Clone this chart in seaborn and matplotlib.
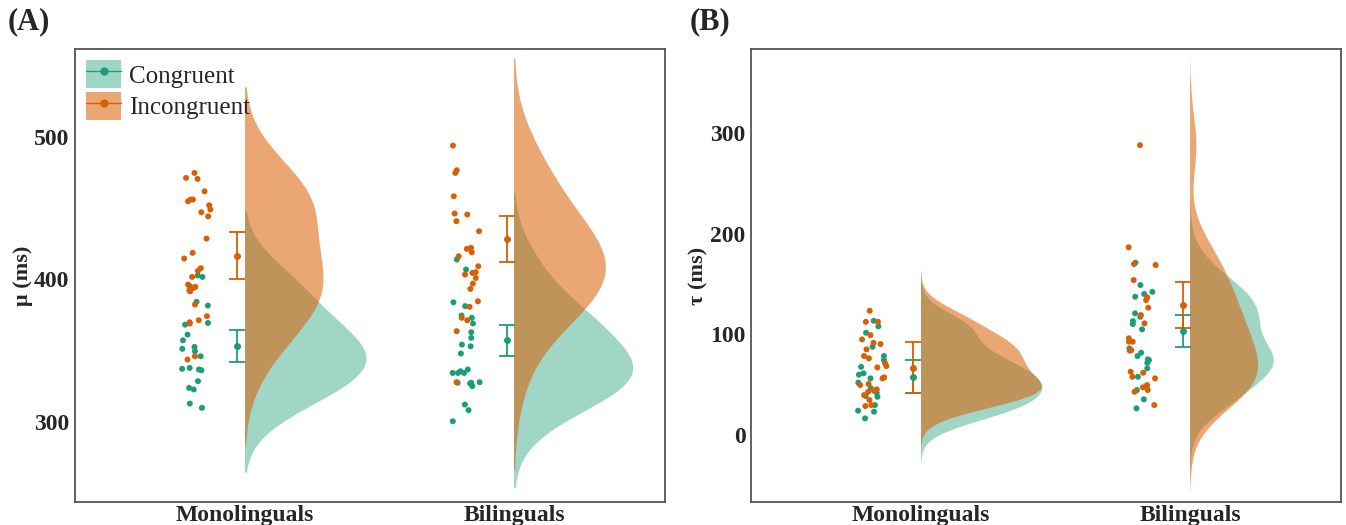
import numpy as np
import pandas as pd
import matplotlib
matplotlib.use("Agg")
import matplotlib.pyplot as plt
import matplotlib.colors as mcolors
import seaborn as sns
from matplotlib.patches import Patch, Rectangle
from matplotlib.lines import Line2D

groups = ["Monolinguals", "Bilinguals"]
conditions = ["Congruent", "Incongruent"]
colors = {"Congruent": "#1b9e77", "Incongruent": "#d95f02"}
cloud_alpha = {"Congruent": 0.42, "Incongruent": 0.55}

# (A) mu per participant (ms)
mu_mono_con = [402.5, 401.5, 395, 384, 381.4, 369.2, 368, 361, 357, 352.4, 351, 349.3,
               345.8, 337.6, 336, 336.5, 337, 328.3, 323.6, 322.5, 312.6, 309.6]
mu_mono_inc = [474.5, 471, 470.3, 461.6, 455.8, 454.6, 455.8, 451.8, 448.8, 446.9, 444,
               428.4, 418.4, 414.4, 407.6, 405.7, 401.5, 396.1, 393.8, 394.5, 392.1,
               391.4, 382.1, 373.9, 371.1, 368.8, 369.7, 345.8, 343.5]
mu_bi_con = [413.7, 406.7, 383.7, 381, 374.4, 372.8, 368.8, 362.7, 358.7, 354, 352.8,
             347.7, 336.5, 335.3, 334.1, 334.1, 334.1, 327.6, 327.2, 327.2, 326.7, 324.8,
             311.9, 308, 300.2]
mu_bi_inc = [493.7, 476.4, 474.5, 458.1, 446, 445.3, 440.6, 433.6, 421.9, 421.2, 418.8,
             416, 409, 404.8, 404.3, 403.2, 400.8, 396.8, 393.1, 384.4, 380.5, 372.8,
             371.1, 363.4, 327.6]

# (B) tau per participant (ms)
tau_mono_con = [113.5, 108, 101.6, 87.7, 78.5, 74.5, 67.8, 61.3, 60, 56.3, 52, 46.4, 42,
                38.7, 38, 29.8, 24.2, 23.2, 16.6]
tau_mono_inc = [123.5, 112.5, 112.5, 99.3, 95, 91.7, 90.4, 85.1, 78.5, 76.2, 71.2, 68.5,
                67.2, 57.3, 56.3, 50.7, 49.7, 45.4, 44, 43, 39.7, 34.8, 29.8, 28.8]
tau_bi_con = [171.2, 149, 142.3, 140.1, 137.4, 120.9, 117.5, 113.2, 110.3, 105, 86.1,
              81.8, 78.5, 75.2, 74.5, 71.8, 66.3, 57.9, 48, 44.7, 35.5, 26.5]
tau_bi_inc = [288, 186.5, 169.9, 168.9, 154, 136.8, 134.1, 126.5, 119.2, 111, 96.1, 92.7,
              92.7, 84.4, 83.8, 62.9, 61.9, 57.9, 56.3, 49.7, 47.4, 44.7, 43, 29.8]

# group means and interval half-widths (Monolinguals, Bilinguals)
mu_mean = {"Congruent": [353, 357], "Incongruent": [416.5, 428]}
mu_ci = {"Congruent": [11.3, 10.9], "Incongruent": [16.5, 16.2]}
tau_mean = {"Congruent": [58, 103], "Incongruent": [67, 129]}
tau_ci = {"Congruent": [16.5, 16], "Incongruent": [25, 23]}


def long_df(mono_con, mono_inc, bi_con, bi_inc):
    parts = {("Monolinguals", "Congruent"): mono_con,
             ("Monolinguals", "Incongruent"): mono_inc,
             ("Bilinguals", "Congruent"): bi_con,
             ("Bilinguals", "Incongruent"): bi_inc}
    rows = []
    for (g, c), vals in parts.items():
        rows += [(g, c, v) for v in vals]
    return pd.DataFrame(rows, columns=["group", "cond", "value"])


sns.set_theme(style="white")
plt.rcParams["font.family"] = ["Liberation Serif", "DejaVu Serif"]

W, H = 1346, 525
fig = plt.figure(figsize=(W / 100, H / 100), dpi=100)
axA = fig.add_axes([75 / W, 1 - 502 / H, 590 / W, 453 / H])
axB = fig.add_axes([751 / W, 1 - 502 / H, 590 / W, 453 / H])


def raincloud(ax, df, means, cis, ylabel, bw, cut):
    # half violins: draw full violins, then clip away the left half
    n0 = len(ax.collections)
    sns.violinplot(data=df, x="group", y="value", hue="cond", order=groups,
                   hue_order=conditions, palette=colors, dodge=False, inner=None,
                   cut=cut, bw_adjust=bw, density_norm="area", common_norm=True,
                   width=0.9, linewidth=0, saturation=1, legend=False, ax=ax)
    green = np.array(mcolors.to_rgb(colors["Congruent"]))
    for coll in ax.collections[n0:]:
        v = coll.get_paths()[0].vertices
        xc = (v[:, 0].min() + v[:, 0].max()) / 2
        clip = Rectangle((xc, -1e4), 10, 2e4, transform=ax.transData)
        coll.set_clip_path(clip)
        fc = np.array(coll.get_facecolor()[0][:3])
        cond = "Congruent" if np.allclose(fc, green, atol=0.02) else "Incongruent"
        coll.set_alpha(cloud_alpha[cond])

    # raw points, shifted left of the clouds
    n1 = len(ax.collections)
    np.random.seed(3)
    sns.stripplot(data=df, x="group", y="value", hue="cond", order=groups,
                  hue_order=conditions, palette=colors, dodge=False, jitter=0.055,
                  size=4.3, linewidth=0, legend=False, ax=ax)
    for coll in ax.collections[n1:]:
        coll.set_offsets(coll.get_offsets() + np.array([-0.18, 0]))

    # means with intervals
    xpos = np.arange(len(groups)) - 0.027
    for c in conditions:
        ax.errorbar(xpos, means[c], yerr=cis[c], fmt="o", color=colors[c], ms=4,
                    capsize=6, elinewidth=1.3, capthick=1.3, zorder=5)

    ax.set_xlim(-0.63, 1.56)
    ax.set_xlabel("")
    ax.set_ylabel(ylabel, fontsize=16, fontweight="bold", labelpad=1)
    ax.set_xticks(range(len(groups)))
    ax.set_xticklabels(groups, fontsize=17, fontweight="bold")
    ax.tick_params(axis="y", length=3, width=1, color="#555555", pad=1)
    ax.tick_params(axis="x", length=0, pad=2)
    for s in ax.spines.values():
        s.set_color("#555555")
        s.set_linewidth(1.3)


dfA = long_df(mu_mono_con, mu_mono_inc, mu_bi_con, mu_bi_inc)
dfB = long_df(tau_mono_con, tau_mono_inc, tau_bi_con, tau_bi_inc)

raincloud(axA, dfA, mu_mean, mu_ci, "μ (ms)", 1.35, 2.25)
axA.set_ylim(243.5, 561.5)
axA.set_yticks([300, 400, 500])

raincloud(axB, dfB, tau_mean, tau_ci, "τ (ms)", 0.9, 3)
axB.set_ylim(-66.5, 383.5)
axB.set_yticks([0, 100, 200, 300])
for ax in (axA, axB):
    for lab in ax.get_yticklabels():
        lab.set_fontsize(17)
        lab.set_fontweight("bold")

handles = [(Patch(facecolor=colors[c], alpha=cloud_alpha[c], edgecolor="none"),
            Line2D([], [], color=colors[c], marker="o", ms=5, lw=1))
           for c in conditions]
axA.legend(handles, conditions, loc="upper left", frameon=False, fontsize=18,
           handlelength=1.4, handleheight=1.35, labelspacing=0.15,
           handletextpad=0.3, borderaxespad=0.15, borderpad=0.3)

fig.text(8 / W, 1 - 22 / H, "(A)", fontsize=22, fontweight="bold", va="center")
fig.text(690 / W, 1 - 22 / H, "(B)", fontsize=22, fontweight="bold", va="center")

fig.savefig("out.png", dpi=100)
